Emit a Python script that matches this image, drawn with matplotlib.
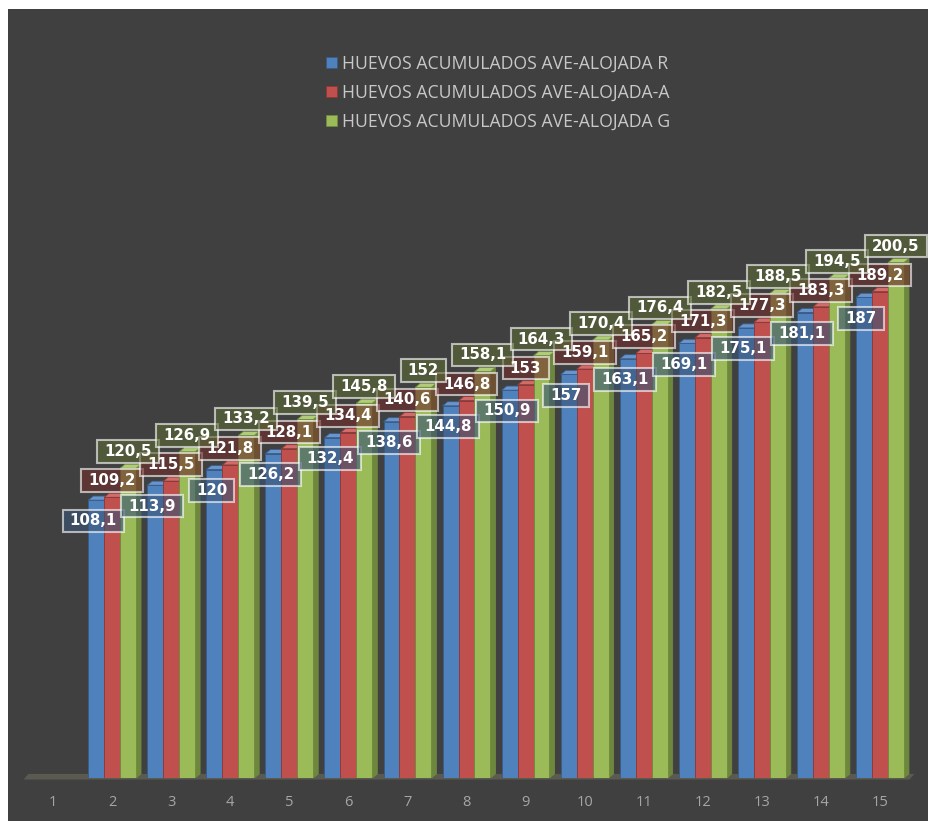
import numpy as np
import matplotlib
matplotlib.use("Agg")
import matplotlib.pyplot as plt
from matplotlib.patches import Polygon, Rectangle
from matplotlib.path import Path

# weekly values, week 1 has no data
weeks = list(range(1, 16))
huevos_r = [None, 108.1, 113.9, 120, 126.2, 132.4, 138.6, 144.8, 150.9, 157, 163.1, 169.1, 175.1, 181.1, 187]
huevos_a = [None, 109.2, 115.5, 121.8, 128.1, 134.4, 140.6, 146.8, 153, 159.1, 165.2, 171.3, 177.3, 183.3, 189.2]
huevos_g = [None, 120.5, 126.9, 133.2, 139.5, 145.8, 152, 158.1, 164.3, 170.4, 176.4, 182.5, 188.5, 194.5, 200.5]
series_names = ["HUEVOS ACUMULADOS AVE-ALOJADA R",
                "HUEVOS ACUMULADOS AVE-ALOJADA-A",
                "HUEVOS ACUMULADOS AVE-ALOJADA G"]

BG = "#404040"
front = ["#4f81bd", "#c0504d", "#9bbb59"]
side = ["#2f5485", "#8a3533", "#6d873c"]
top = ["#6a95cc", "#d06c69", "#b0cc78"]
edge = ["#385d8a", "#8c3836", "#71893f"]
box_fc = ["#3a5476", "#6e2f2d", "#5a6a35"]


def label_box(x0, y0, width, height, mutation_size):
    # wider than tall padding, like spreadsheet data labels
    px, py = 0.48 * mutation_size, 0.26 * mutation_size
    x0, y0 = x0 - px, y0 - py
    x1, y1 = x0 + width + 2 * px, y0 + height + 2 * py
    return Path([(x0, y0), (x1, y0), (x1, y1), (x0, y1), (x0, y0)], closed=True)


fig = plt.figure(figsize=(9.29, 8.21), dpi=100, facecolor=BG)
# thin white margin on top and left
fig.patches.append(Rectangle((0, (821 - 9) / 821), 1, 9 / 821, transform=fig.transFigure,
                             facecolor="white", edgecolor="none"))
fig.patches.append(Rectangle((0, 0), 8 / 929, 1, transform=fig.transFigure,
                             facecolor="white", edgecolor="none"))

ax = fig.add_axes([8 / 929, (821 - 778) / 821, 921 / 929, 769 / 821])
ax.set_facecolor(BG)
ax.set_xlim(0.238, 15.83)
ax.set_ylim(0, 299.2)
for s in ax.spines.values():
    s.set_visible(False)
ax.set_yticks([])
ax.set_xticks(weeks)
ax.set_xticklabels([str(w) for w in weeks], fontsize=10.5, color="#a6a6a6", family="Open Sans")
ax.tick_params(axis="x", length=0, pad=12)

# depth of the 3D effect in data units
dx, dy = 0.085, 1.6
width = 0.27

# floor
ax.add_patch(Polygon([(0.5, -0.6), (15.5, -0.6), (15.5 + dx, dy), (0.5 + dx, dy)],
                     closed=True, facecolor="#5a5a50", edgecolor="none", zorder=1,
                     clip_on=False))

all_series = [huevos_r, huevos_a, huevos_g]
bars = []
z = 2
for i, w in enumerate(weeks):
    for k, vals in enumerate(all_series):
        v = vals[i]
        if v is None:
            continue
        x0 = w + (k - 1) * width - width / 2
        x1 = x0 + width
        ax.add_patch(Polygon([(x1, 0), (x1 + dx, dy), (x1 + dx, v + dy), (x1, v)],
                             closed=True, facecolor=side[k], edgecolor=edge[k], lw=0.6, zorder=z))
        ax.add_patch(Polygon([(x0, v), (x1, v), (x1 + dx, v + dy), (x0 + dx, v + dy)],
                             closed=True, facecolor=top[k], edgecolor=edge[k], lw=0.6, zorder=z))
        b = ax.bar(x0, v, width=width, align="edge", color=front[k], edgecolor=edge[k],
                   lw=0.6, zorder=z + 0.5)
        if i == 1:
            bars.append(b)
        z += 1

# data labels: boxes first, then all texts on top so none get hidden
for k, vals in enumerate(all_series):
    off = (-2, -15) if k == 0 else (0, 12)
    for i, w in enumerate(weeks):
        v = vals[i]
        if v is None:
            continue
        xc = w + (k - 1) * width
        txt = f"{v:g}".replace(".", ",")
        ax.annotate(txt, (xc, v), xytext=off, textcoords="offset points",
                    ha="center", va="center", fontsize=10.8, fontweight="bold", color="none",
                    family="DejaVu Sans", zorder=100 + k,
                    bbox=dict(boxstyle=label_box, facecolor=box_fc[k], alpha=0.62,
                              edgecolor=(1, 1, 1, 0.5), lw=1.5))
        ax.annotate(txt, (xc, v), xytext=off, textcoords="offset points",
                    ha="center", va="center", fontsize=10.8, fontweight="bold", color="white",
                    family="DejaVu Sans", zorder=110)

leg = fig.legend([b[0] for b in bars], series_names, loc="upper center",
                 bbox_to_anchor=(0.536, 0.953), frameon=False, ncol=1,
                 handlelength=0.6, handleheight=0.6, handletextpad=0.3, labelspacing=0.62,
                 prop={"family": "Open Sans", "size": 12.7})
for t in leg.get_texts():
    t.set_color("#c8c8c8")

fig.savefig("out.png", dpi=100, facecolor=BG)
